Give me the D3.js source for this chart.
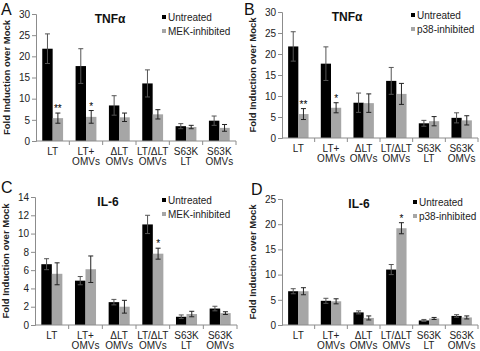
<!DOCTYPE html>
<html>
<head>
<meta charset="utf-8">
<script src="https://cdn.jsdelivr.net/npm/d3@7"></script>
<style>
  body { margin: 0; background: #fff; }
  svg { display: block; font-family: "Liberation Sans", Arial, sans-serif; }
</style>
</head>
<body>
<div id="chart-area"></div>
<script>
// categories shared by all four panels
const categories = ["LT", "LT+|OMVs", "ΔLT|OMVs", "LT/ΔLT|OMVs", "S63K|LT", "S63K|OMVs"];

// A: TNFα, MEK
const tnfUntreatedA = [21.8, 17.7, 8.4, 13.6, 3.5, 4.8];
const tnfUntreatedErrA = [3.5, 4.1, 2.3, 3.2, 0.6, 1.1];
const tnfMek = [5.4, 5.7, 5.6, 6.3, 3.3, 3.1];
const tnfMekErr = [1.2, 1.5, 1.0, 1.1, 0.4, 0.8];

// B: TNFα, p38
const tnfUntreatedB = [21.8, 17.7, 8.4, 13.6, 3.5, 4.8];
const tnfUntreatedErrB = [3.5, 4.0, 2.3, 3.2, 0.7, 1.2];
const tnfP38 = [5.7, 7.2, 8.3, 10.5, 4.0, 4.2];
const tnfP38Err = [1.3, 1.2, 2.2, 2.5, 1.1, 1.1];

// C: IL-6, MEK
const il6UntreatedC = [6.65, 4.85, 2.5, 11.0, 0.9, 1.8];
const il6UntreatedErrC = [0.6, 0.45, 0.3, 1.0, 0.2, 0.25];
const il6Mek = [5.6, 6.1, 2.0, 7.8, 1.2, 1.3];
const il6MekErr = [1.2, 1.45, 0.7, 0.6, 0.3, 0.15];

// D: IL-6, p38
const il6UntreatedD = [6.7, 4.8, 2.5, 11.0, 0.9, 1.8];
const il6UntreatedErrD = [0.5, 0.5, 0.3, 1.0, 0.2, 0.25];
const il6P38 = [6.7, 4.7, 1.4, 19.2, 1.3, 1.5];
const il6P38Err = [0.7, 0.5, 0.4, 1.1, 0.2, 0.3];

const yTicksTnf = [0, 5, 10, 15, 20, 25, 30];
const yTicksIl6C = [0, 2, 4, 6, 8, 10, 12, 14];
const yTicksIl6D = [0, 5, 10, 15, 20, 25];

const colors = { untreated: "#000000", inhibited: "#a6a6a6" };

const svg = d3.select("#chart-area")
    .append("svg")
    .attr("width", 480)
    .attr("height", 351);

const panels = [
    { letter: "A", lx: 1, ly: 15, title: "TNFα", tx: 110, x0: 36, x1: 236, yTop: 14, yBot: 141,
      ticks: yTicksTnf, a: tnfUntreatedA, ae: tnfUntreatedErrA, b: tnfMek, be: tnfMekErr,
      inh: "MEK-inhibited", legX: 162, stars: ["**", "*", "", "", "", ""] },
    { letter: "B", lx: 244, ly: 15, title: "TNFα", tx: 347, x0: 282, x1: 478, yTop: 12, yBot: 138,
      ticks: yTicksTnf, a: tnfUntreatedB, ae: tnfUntreatedErrB, b: tnfP38, be: tnfP38Err,
      inh: "p38-inhibited", legX: 411, stars: ["**", "*", "", "", "", ""] },
    { letter: "C", lx: 1, ly: 193, title: "IL-6", tx: 108, x0: 35, x1: 237, yTop: 197, yBot: 325,
      ticks: yTicksIl6C, a: il6UntreatedC, ae: il6UntreatedErrC, b: il6Mek, be: il6MekErr,
      inh: "MEK-inhibited", legX: 162, stars: ["", "", "", "*", "", ""] },
    { letter: "D", lx: 251, ly: 195, title: "IL-6", tx: 359, x0: 282, x1: 478, yTop: 199, yBot: 325,
      ticks: yTicksIl6D, a: il6UntreatedD, ae: il6UntreatedErrD, b: il6P38, be: il6P38Err,
      inh: "p38-inhibited", legX: 413, stars: ["", "", "", "*", "", ""] }
];

panels.forEach(p => {
    const g = svg.append("g");

    const x = d3.scaleBand().domain(categories).range([p.x0, p.x1]);
    const xSub = d3.scaleBand().domain(["a", "b"]).range([0, x.bandwidth()])
        .paddingInner(0).paddingOuter(0.6);
    const y = d3.scaleLinear()
        .domain([0, d3.max(p.ticks)])
        .range([p.yBot, p.yTop]);

    // y axis
    const yAxis = g.append("g")
        .attr("transform", `translate(${p.x0},0)`)
        .call(d3.axisLeft(y).tickValues(p.ticks).tickSize(4).tickPadding(2));
    yAxis.selectAll(".domain, .tick line").attr("stroke", "#8c8c8c");
    yAxis.selectAll("text").attr("font-size", 10).attr("fill", "#222")
        .attr("font-family", "Liberation Sans, Arial, sans-serif");

    // bars
    const rows = categories.map((c, i) => ({ c, i }));
    const series = [
        { key: "a", vals: p.a, errs: p.ae, fill: colors.untreated },
        { key: "b", vals: p.b, errs: p.be, fill: colors.inhibited }
    ];
    series.forEach(s => {
        g.selectAll(null).data(rows).enter().append("rect")
            .attr("x", d => x(d.c) + xSub(s.key))
            .attr("width", xSub.bandwidth())
            .attr("y", d => y(s.vals[d.i]))
            .attr("height", d => y(0) - y(s.vals[d.i]))
            .attr("fill", s.fill);
    });
    series.forEach(s => {
        const cx = d => x(d.c) + xSub(s.key) + xSub.bandwidth() / 2;
        const eb = g.selectAll(null).data(rows).enter().append("g")
            .attr("stroke", s.key === "a" ? "#555" : "#222")
            .attr("stroke-width", 1);
        eb.append("line")
            .attr("x1", cx).attr("x2", cx)
            .attr("y1", d => y(s.vals[d.i] - s.errs[d.i]))
            .attr("y2", d => y(s.vals[d.i] + s.errs[d.i]));
        [1, -1].forEach(sign => {
            eb.append("line")
                .attr("x1", d => cx(d) - 2.5).attr("x2", d => cx(d) + 2.5)
                .attr("y1", d => y(s.vals[d.i] + sign * s.errs[d.i]))
                .attr("y2", d => y(s.vals[d.i] + sign * s.errs[d.i]));
        });
    });

    // significance stars
    g.selectAll(null).data(rows.filter(d => p.stars[d.i])).enter().append("text")
        .attr("x", d => x(d.c) + xSub("b") + xSub.bandwidth() / 2)
        .attr("y", d => y(p.b[d.i] + p.be[d.i]) - 1)
        .attr("text-anchor", "middle")
        .attr("font-size", 10)
        .attr("fill", "#000")
        .text(d => p.stars[d.i]);

    // x axis with group boundary ticks
    g.append("line")
        .attr("x1", p.x0).attr("x2", p.x1)
        .attr("y1", y(0)).attr("y2", y(0))
        .attr("stroke", "#8c8c8c");
    const bounds = categories.map(c => x(c) + x.bandwidth());
    g.selectAll(null).data(bounds).enter().append("line")
        .attr("x1", d => d).attr("x2", d => d)
        .attr("y1", y(0)).attr("y2", y(0) + 4)
        .attr("stroke", "#8c8c8c");
    const labels = g.selectAll(null).data(categories).enter().append("text")
        .attr("x", d => x(d) + x.bandwidth() / 2)
        .attr("y", y(0) + 14)
        .attr("text-anchor", "middle")
        .attr("font-size", 10)
        .attr("fill", "#222");
    labels.each(function (d) {
        const parts = d.split("|");
        const t = d3.select(this);
        parts.forEach((part, k) => {
            t.append("tspan")
                .attr("x", x(d) + x.bandwidth() / 2)
                .attr("dy", k === 0 ? 0 : 10)
                .text(part);
        });
    });

    // y title
    g.append("text")
        .attr("transform", `translate(${p.x0 - 26},${(p.yTop + p.yBot) / 2}) rotate(-90)`)
        .attr("text-anchor", "middle")
        .attr("font-size", 9.5)
        .attr("font-weight", "bold")
        .attr("fill", "#222")
        .text("Fold Induction over Mock");

    // panel letter and title
    g.append("text")
        .attr("x", p.lx).attr("y", p.ly)
        .attr("font-size", 16)
        .attr("fill", "#111")
        .text(p.letter);
    g.append("text")
        .attr("x", p.tx).attr("y", p.yTop + 9)
        .attr("text-anchor", "middle")
        .attr("font-size", 12)
        .attr("font-weight", "bold")
        .attr("fill", "#111")
        .text(p.title);

    // legend
    const leg = g.append("g");
    [["Untreated", colors.untreated], [p.inh, colors.inhibited]].forEach(([name, col], k) => {
        leg.append("rect")
            .attr("x", p.legX).attr("y", p.yTop + 1 + k * 14)
            .attr("width", 4).attr("height", 4)
            .attr("fill", col);
        leg.append("text")
            .attr("x", p.legX + 6).attr("y", p.yTop + 6.5 + k * 14)
            .attr("font-size", 10)
            .attr("fill", "#222")
            .text(name);
    });
});
</script>
</body>
</html>
